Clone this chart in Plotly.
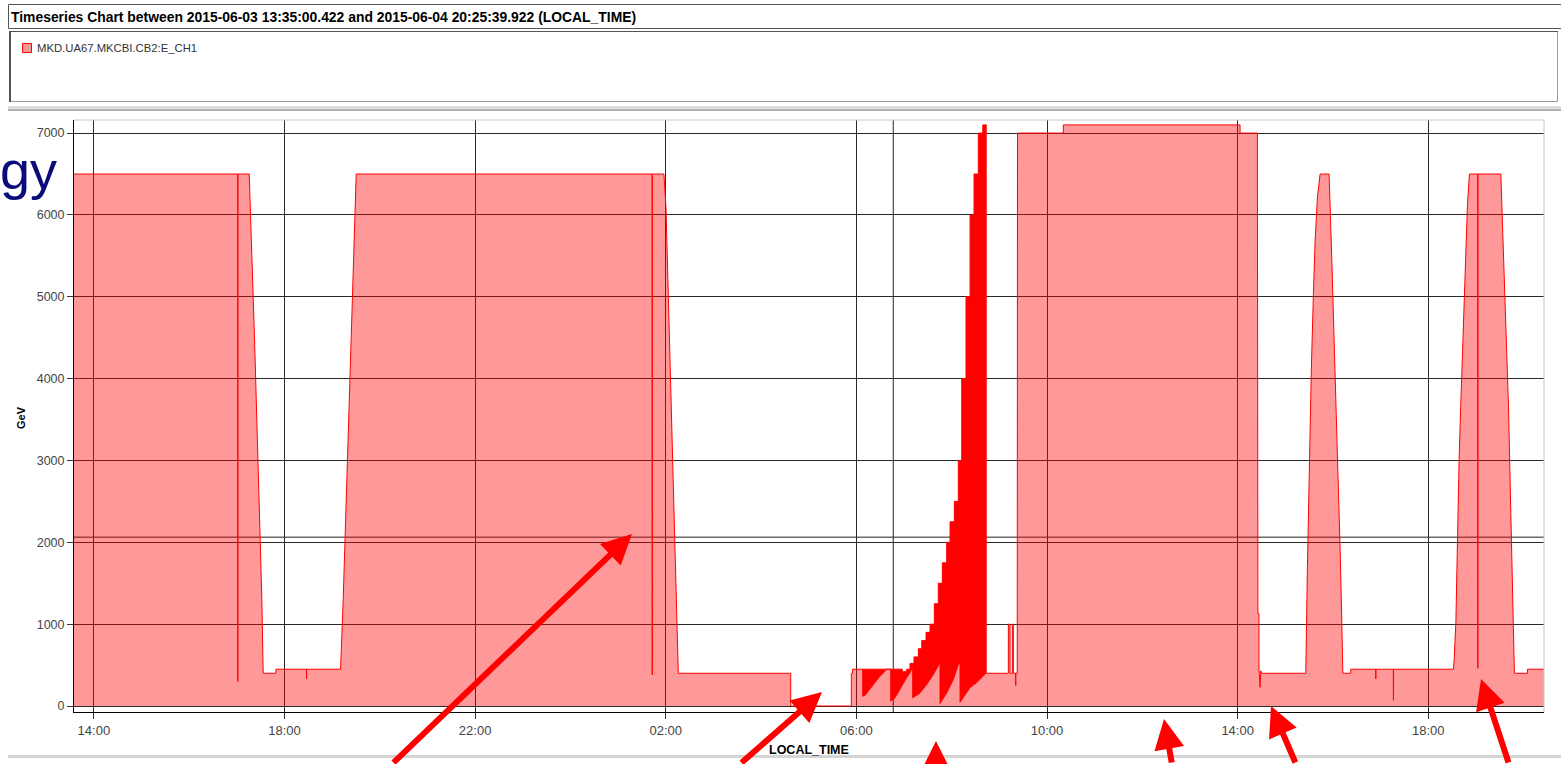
import plotly.graph_objects as go

D1 = "2015-06-03 "
D2 = "2015-06-04 "

# MKD.UA67.MKCBI.CB2:E_CH1 energy samples (local time, GeV)
run_before_tests = [
    (D1 + "13:35:00.422", 6500), (D1 + "17:01:10", 6500), (D1 + "17:01:18", 300), (D1 + "17:01:26", 6500),
    (D1 + "17:15:36", 6500), (D1 + "17:22:42", 4350), (D1 + "17:31:30", 1300), (D1 + "17:33:12", 400),
    (D1 + "17:49:12", 400), (D1 + "17:49:15", 450), (D1 + "18:27:40", 450), (D1 + "18:27:48", 330),
    (D1 + "18:27:56", 450), (D1 + "19:10:36", 450), (D1 + "19:13:54", 1300), (D1 + "19:30:18", 6500),
    (D2 + "01:42:50", 6500), (D2 + "01:43:00", 380), (D2 + "01:43:10", 6500), (D2 + "01:57:42", 6500),
    (D2 + "02:00:18", 6080), (D2 + "02:15:48", 400), (D2 + "04:37:18", 400), (D2 + "04:37:20", 0),
    (D2 + "05:53:36", 0), (D2 + "05:53:38", 400), (D2 + "05:55:00", 400), (D2 + "05:55:02", 450),
]

# lower envelope of the fast energy cycling (sawtooth)
cycling_low = [
    (D2 + "06:07:54", 450), (D2 + "06:07:56", 120), (D2 + "06:10:48", 130), (D2 + "06:21:18", 262),
    (D2 + "06:28:54", 356), (D2 + "06:36:54", 433), (D2 + "06:38:12", 450), (D2 + "06:43:12", 450),
    (D2 + "06:43:14", 60), (D2 + "06:48:36", 100), (D2 + "06:55:48", 225), (D2 + "07:03:18", 347),
    (D2 + "07:08:24", 420), (D2 + "07:10:50", 500), (D2 + "07:10:54", 100), (D2 + "07:20:06", 160),
    (D2 + "07:28:30", 262), (D2 + "07:36:48", 384), (D2 + "07:44:00", 507), (D2 + "07:45:16", 520),
    (D2 + "07:45:18", 30), (D2 + "07:53:42", 160), (D2 + "08:02:00", 323), (D2 + "08:08:18", 507),
    (D2 + "08:10:28", 520), (D2 + "08:10:30", 45), (D2 + "08:23:06", 225), (D2 + "08:31:30", 286),
    (D2 + "08:42:48", 397), (D2 + "08:44:06", 400),
]

# upper envelope of the fast energy cycling (flat-top steps)
cycling_high = [
    (D2 + "06:07:54", 450), (D2 + "06:57:48", 420), (D2 + "07:03:18", 450), (D2 + "07:07:30", 520),
    (D2 + "07:12:30", 600), (D2 + "07:18:00", 700), (D2 + "07:22:18", 800), (D2 + "07:27:42", 900),
    (D2 + "07:32:42", 1000), (D2 + "07:38:06", 1250), (D2 + "07:43:06", 1500), (D2 + "07:48:12", 1750),
    (D2 + "07:53:42", 2000), (D2 + "07:57:54", 2250), (D2 + "08:03:18", 2500), (D2 + "08:08:18", 3000),
    (D2 + "08:12:36", 4000), (D2 + "08:18:00", 5000), (D2 + "08:23:06", 6000), (D2 + "08:28:06", 6500),
    (D2 + "08:33:30", 7000), (D2 + "08:39:06", 7100), (D2 + "08:44:06", 7100),
]

run_after_tests = [
    (D2 + "09:11:18", 400), (D2 + "09:11:20", 1000), (D2 + "09:13:24", 1000), (D2 + "09:13:26", 400),
    (D2 + "09:16:18", 400), (D2 + "09:16:20", 1000), (D2 + "09:17:36", 1000), (D2 + "09:17:38", 400),
    (D2 + "09:20:30", 400), (D2 + "09:20:36", 250), (D2 + "09:20:42", 400), (D2 + "09:22:30", 400),
    (D2 + "09:22:50", 7000), (D2 + "10:20:30", 7000), (D2 + "10:20:32", 7100), (D2 + "14:03:00", 7100),
    (D2 + "14:03:02", 7000), (D2 + "14:24:48", 7000), (D2 + "14:25:30", 1130), (D2 + "14:26:48", 1130),
    (D2 + "14:26:50", 440), (D2 + "14:28:12", 230), (D2 + "14:29:00", 430), (D2 + "14:30:24", 400),
    (D2 + "15:25:48", 400), (D2 + "15:27:48", 1690), (D2 + "15:29:36", 2620), (D2 + "15:31:12", 3330),
    (D2 + "15:32:48", 4130), (D2 + "15:35:18", 5016), (D2 + "15:37:30", 5681), (D2 + "15:40:24", 6214),
    (D2 + "15:43:48", 6500), (D2 + "15:55:06", 6500), (D2 + "15:56:24", 6170), (D2 + "15:58:30", 5460),
    (D2 + "16:00:36", 4750), (D2 + "16:03:36", 3775), (D2 + "16:06:48", 2800), (D2 + "16:09:00", 1907),
    (D2 + "16:11:06", 1020), (D2 + "16:12:24", 400), (D2 + "16:22:24", 400), (D2 + "16:22:26", 450),
    (D2 + "16:53:50", 450), (D2 + "16:53:54", 330), (D2 + "16:53:58", 450), (D2 + "17:16:02", 450),
    (D2 + "17:16:06", 70), (D2 + "17:16:10", 450), (D2 + "18:31:36", 450), (D2 + "18:32:30", 550),
    (D2 + "18:34:42", 1020), (D2 + "18:36:42", 2040), (D2 + "18:38:48", 3020), (D2 + "18:40:54", 3684),
    (D2 + "18:43:30", 4484), (D2 + "18:46:24", 5460), (D2 + "18:49:18", 6125), (D2 + "18:51:48", 6500),
    (D2 + "19:02:20", 6500), (D2 + "19:02:24", 460), (D2 + "19:02:28", 6500), (D2 + "19:31:18", 6500),
    (D2 + "19:33:18", 5905), (D2 + "19:36:42", 5016), (D2 + "19:40:54", 3684), (D2 + "19:43:54", 2353),
    (D2 + "19:46:24", 1243), (D2 + "19:48:24", 400), (D2 + "20:04:48", 400), (D2 + "20:04:50", 450),
    (D2 + "20:25:39.922", 450),
]

x_start, x_end = D1 + "13:35:00.422", D2 + "20:25:39.922"
tick_times = [D1 + "14:00", D1 + "18:00", D1 + "22:00", D2 + "02:00", D2 + "06:00",
              D2 + "10:00", D2 + "14:00", D2 + "18:00"]
tick_labels = ["14:00", "18:00", "22:00", "02:00", "06:00", "10:00", "14:00", "18:00"]
y_ticks = [0, 1000, 2000, 3000, 4000, 5000, 6000, 7000]
crosshair = (D2 + "06:46:24", 2063)

series = run_before_tests + cycling_low + run_after_tests

W, H = 1561, 764
L, R, T, B = 74, 1544, 120, 712


def px(x, y):
    """pixel position on the page -> paper coordinates"""
    return (x - L) / (R - L), (B - y) / (B - T)


fig = go.Figure()
fig.add_trace(go.Scatter(
    x=[t for t, _ in series], y=[v for _, v in series], mode="lines",
    line=dict(color="#ff0000", width=1), fill="tozeroy",
    fillcolor="rgba(255,0,0,0.4)", hoverinfo="skip",
))
fig.add_trace(go.Scatter(
    x=[t for t, _ in cycling_low], y=[v for _, v in cycling_low], mode="lines",
    line=dict(color="rgba(255,0,0,0)", width=0), hoverinfo="skip",
))
fig.add_trace(go.Scatter(
    x=[t for t, _ in cycling_high], y=[v for _, v in cycling_high], mode="lines",
    line=dict(color="#ff0000", width=1, shape="hv"), fill="tonexty",
    fillcolor="#ff0000", hoverinfo="skip",
))

shapes = []
# crosshair
shapes.append(dict(type="line", xref="x", yref="paper", x0=crosshair[0], x1=crosshair[0],
                   y0=0, y1=1, line=dict(color="#222", width=1), layer="below"))
shapes.append(dict(type="line", xref="paper", yref="y", x0=0, x1=1, y0=crosshair[1],
                   y1=crosshair[1], line=dict(color="#222", width=1), layer="below"))
# top / right frame of the plot
shapes.append(dict(type="line", xref="paper", yref="paper", x0=0, x1=1, y0=1, y1=1,
                   line=dict(color="#c8c8c8", width=1)))
shapes.append(dict(type="line", xref="paper", yref="paper", x0=1, x1=1, y0=0, y1=1,
                   line=dict(color="#c8c8c8", width=1)))


def rect(x0, y0, x1, y1, **kw):
    a, b = px(x0, y0)
    c, d = px(x1, y1)
    shapes.append(dict(type="rect", xref="paper", yref="paper", x0=a, y0=d, x1=c, y1=b, **kw))


def hline(x0, x1, y, color, width=1):
    a, b = px(x0, y)
    c, _ = px(x1, y)
    shapes.append(dict(type="line", xref="paper", yref="paper", x0=a, x1=c, y0=b, y1=b,
                       line=dict(color=color, width=width)))


def vline(x, y0, y1, color, width=1):
    a, b = px(x, y0)
    _, d = px(x, y1)
    shapes.append(dict(type="line", xref="paper", yref="paper", x0=a, x1=a, y0=b, y1=d,
                       line=dict(color=color, width=width)))


# title panel
rect(8.5, 4.5, 1570, 28.5, line=dict(color="#555555", width=1), fillcolor="white")
# legend panel
rect(9.5, 31.5, 1557.5, 101.5, line=dict(color="#9a9a9a", width=1), fillcolor="white")
vline(10, 31, 102, "#555555", 2)
hline(9, 1558, 31.5, "#555555", 1)
hline(8, 1561, 107.5, "#d0d0d0", 2)
hline(8, 1561, 110, "#606060", 1)
# legend swatch
rect(22.5, 43.5, 31.5, 52.5, line=dict(color="#ff0000", width=1), fillcolor="rgba(255,0,0,0.4)")
# bottom separator
hline(8, 1561, 756.5, "#d4d4d4", 3)

annotations = []


def text(x, y, s, size, color="#000", bold=False, family="Liberation Sans", xanchor="left",
         yanchor="middle", angle=0):
    a, b = px(x, y)
    annotations.append(dict(xref="paper", yref="paper", x=a, y=b, text=f"<b>{s}</b>" if bold else s,
                            showarrow=False, xanchor=xanchor, yanchor=yanchor, textangle=angle,
                            font=dict(family=family, size=size, color=color)))


text(9, 17, "Timeseries Chart between 2015-06-03 13:35:00.422 and 2015-06-04 20:25:39.922 (LOCAL_TIME)",
     13.9, bold=True)
text(35, 48, "MKD.UA67.MKCBI.CB2:E_CH1", 11.3, color="#333")
text(-2, 170, "gy", 54, color="#0a0a7a")
text(21, 418, "GeV", 11, bold=True, angle=-90, xanchor="center")
text(809, 750, "LOCAL_TIME", 12.5, bold=True, xanchor="center")

# red pointer arrows (tip, tail)
arrows = [((632, 534), (392, 770)), ((822, 692), (740, 770)), ((936, 741), (936, 775)),
          ((1164, 719), (1172, 775)), ((1271, 706), (1296, 775)), ((1481, 679), (1509, 775))]
for (tx, ty), (sx, sy) in arrows:
    a, b = px(tx, ty)
    annotations.append(dict(xref="paper", yref="paper", x=a, y=b, ax=sx - tx, ay=sy - ty, text="",
                            showarrow=True, arrowhead=2, arrowsize=1, arrowwidth=6,
                            arrowcolor="#ff0000", standoff=0))

fig.update_layout(
    width=W, height=H, margin=dict(l=L, r=W - R, t=T, b=H - B, pad=0),
    paper_bgcolor="white", plot_bgcolor="white", showlegend=False,
    shapes=shapes, annotations=annotations,
    xaxis=dict(type="date", range=[x_start, x_end], tickvals=tick_times, ticktext=tick_labels,
               showgrid=True, gridcolor="#2a2a2a", gridwidth=1, showline=True, linecolor="#000",
               linewidth=1, ticks="outside", ticklen=6, tickcolor="#333",
               tickfont=dict(family="Liberation Sans", size=13, color="#444"), zeroline=False),
    yaxis=dict(range=[-73, 7160], tickvals=y_ticks, ticktext=[str(v) for v in y_ticks],
               showgrid=True, gridcolor="#2a2a2a", gridwidth=1, showline=True, linecolor="#000",
               linewidth=1, ticks="outside", ticklen=6, tickcolor="#333",
               tickfont=dict(family="Liberation Sans", size=12.5, color="#444"), zeroline=False),
)

fig.write_html("out.html")
